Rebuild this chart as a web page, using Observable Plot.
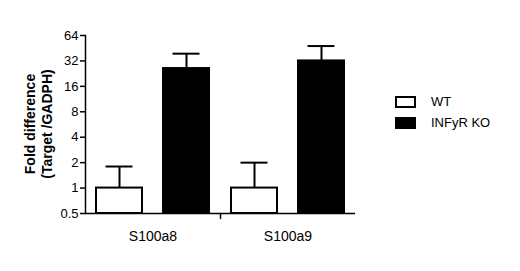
<!DOCTYPE html>
<html>
<head>
<meta charset="utf-8">
<script src="https://cdn.jsdelivr.net/npm/d3@7"></script>
<script src="https://cdn.jsdelivr.net/npm/@observablehq/plot@0.6"></script>
<style>
  html, body { margin: 0; padding: 0; background: #fff; }
  #wrap { position: relative; width: 520px; height: 271px; font-family: "Liberation Sans", Arial, sans-serif; color: #000; }
  #ylabel { position: absolute; left: 39px; top: 124px; transform: translate(-50%, -50%) rotate(-90deg); font-weight: bold; font-size: 14px; line-height: 17px; text-align: center; white-space: nowrap; }
  #legend { position: absolute; left: 395px; top: 91px; font-size: 13px; }
  .item { display: flex; align-items: center; height: 21px; }
  .sw { width: 17px; height: 8px; border: 2px solid #000; margin-right: 15px; }
</style>
</head>
<body>
<div id="wrap"></div>
<script>
const genes = ["S100a8", "S100a9"];
const groups = ["WT", "INFyR KO"];
const wtMean = [1, 1];
const wtSem = [0.8, 1.0];
const koMean = [26, 32];
const koSem = [13, 16];
const yTicks = [0.5, 1, 2, 4, 8, 16, 32, 64];
const groupFill = ["white", "black"];
const yLabel = ["Fold difference", "(Target /GADPH)"];

const rows = [];
genes.forEach((g, i) => {
  rows.push({gene: g, group: groups[0], value: wtMean[i], err: wtMean[i] + wtSem[i]});
  rows.push({gene: g, group: groups[1], value: koMean[i], err: koMean[i] + koSem[i]});
});

const chart = Plot.plot({
  width: 520,
  height: 271,
  marginLeft: 85,
  marginRight: 165,
  marginTop: 35,
  marginBottom: 58,
  style: {fontFamily: "'Liberation Sans', Arial, sans-serif", color: "#000", background: "#fff"},
  fx: {domain: genes, padding: 0, label: null},
  x: {domain: groups, paddingInner: 0.317, paddingOuter: 0.163, axis: null},
  y: {type: "log", base: 2, domain: [0.5, 64], axis: null},
  color: {domain: groups, range: groupFill},
  marks: [
    Plot.ruleY([0.5], {strokeWidth: 1.5}),
    Plot.barY(rows, {fx: "gene", x: "group", y1: () => 0.5, y2: "value", fill: "group", stroke: "black", strokeWidth: 2}),
    Plot.ruleX(rows, {fx: "gene", x: "group", y1: "value", y2: "err", strokeWidth: 2}),
    Plot.tickY(rows, {fx: "gene", x: "group", y: "err", insetLeft: 9.5, insetRight: 9.5, strokeWidth: 2}),
    Plot.frame({anchor: "left", facetAnchor: "left", strokeWidth: 1.5}),
    Plot.vector([genes[1]], {fx: d => d, frameAnchor: "bottom-left", rotate: 180, length: 5, anchor: "start", strokeWidth: 1.5,
      shape: {draw(context, l) { context.moveTo(0, 0); context.lineTo(0, -l); }}}),
    Plot.axisY({ticks: yTicks, tickFormat: d => String(d), tickSize: 5, tickPadding: 2, fontSize: 13, label: null, strokeWidth: 1.5}),
    Plot.axisFx({anchor: "bottom", tickSize: 0, tickPadding: 18, fontSize: 14, label: null})
  ]
});

const wrap = document.getElementById("wrap");
wrap.appendChild(chart);

const yl = document.createElement("div");
yl.id = "ylabel";
yl.innerHTML = yLabel.map(t => `<div>${t}</div>`).join("");
wrap.appendChild(yl);

const lg = document.createElement("div");
lg.id = "legend";
groups.forEach((g, i) => {
  const it = document.createElement("div");
  it.className = "item";
  it.innerHTML = `<span class="sw" style="background:${groupFill[i]}"></span><span>${g}</span>`;
  lg.appendChild(it);
});
wrap.appendChild(lg);
</script>
</body>
</html>
